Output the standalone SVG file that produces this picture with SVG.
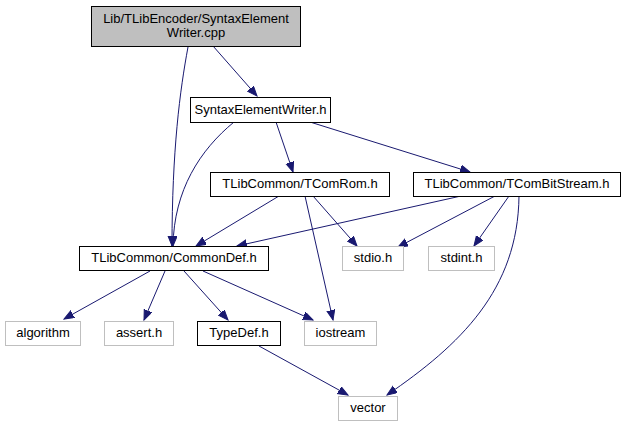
<svg xmlns="http://www.w3.org/2000/svg" width="628" height="427" viewBox="0 0 628 427">
<style>
.n rect{fill:#fff;stroke:#000;stroke-width:1}
.g rect{fill:#fff;stroke:#bfbfbf;stroke-width:1}
.r rect{fill:#bfbfbf;stroke:#000;stroke-width:1}
text{font-family:"Liberation Sans",Arial,sans-serif;font-size:13px;text-anchor:middle;fill:#000}
#edges path{fill:none;stroke:#191970;stroke-width:1;marker-end:url(#ah)}
</style>
<defs>
<marker id="ah" markerUnits="userSpaceOnUse" markerWidth="12" markerHeight="10" refX="10" refY="4" orient="auto" viewBox="0 0 12 10">
<path d="M0,0 L10,4 L0,8 Z" fill="#191970" stroke="#191970"/>
</marker>
</defs>
<rect width="628" height="427" fill="#fff"/>
<g id="edges">
<path d="M188,47 C180,90 172,150 172,246"/>
<path d="M213,46 L257,96"/>
<path d="M234,122 C200,150 174,190 173,246"/>
<path d="M276,122 L293,172"/>
<path d="M310,122 L470,172"/>
<path d="M279,196 L196,246"/>
<path d="M313,196 L357,246"/>
<path d="M305,196 L333,320"/>
<path d="M461,196 L237,246"/>
<path d="M495,196 L398,247"/>
<path d="M509,196 L474,246"/>
<path d="M519,196 C518,290 460,345 387,395"/>
<path d="M150,271 L64,319"/>
<path d="M165,271 L144,320"/>
<path d="M184,271 L228,320"/>
<path d="M203,271 L313,320"/>
<path d="M259,346 L348,395"/>
</g>
<g id="node_root" class="r"><rect x="91.5" y="6.5" width="209" height="40"/><text x="196" y="23">Lib/TLibEncoder/SyntaxElement</text><text x="196" y="37">Writer.cpp</text></g>
<g id="node_sew" class="n"><rect x="190.5" y="97.5" width="140" height="25"/><text x="260.5" y="114">SyntaxElementWriter.h</text></g>
<g id="node_tcomrom" class="n"><rect x="210.5" y="172.5" width="179" height="24"/><text x="300" y="188">TLibCommon/TComRom.h</text></g>
<g id="node_tcombitstream" class="n"><rect x="413.5" y="172.5" width="207" height="24"/><text x="517" y="188">TLibCommon/TComBitStream.h</text></g>
<g id="node_commondef" class="n"><rect x="79.5" y="246.5" width="189" height="24"/><text x="174" y="262">TLibCommon/CommonDef.h</text></g>
<g id="node_stdio" class="g"><rect x="342.5" y="246.5" width="61" height="24"/><text x="373" y="262">stdio.h</text></g>
<g id="node_stdint" class="g"><rect x="428.5" y="246.5" width="66" height="24"/><text x="461.5" y="262">stdint.h</text></g>
<g id="node_algorithm" class="g"><rect x="5.5" y="321.5" width="75" height="24"/><text x="43" y="337">algorithm</text></g>
<g id="node_assert" class="g"><rect x="104.5" y="321.5" width="69" height="24"/><text x="139" y="337">assert.h</text></g>
<g id="node_typedef" class="n"><rect x="197.5" y="321.5" width="83" height="24"/><text x="239" y="337">TypeDef.h</text></g>
<g id="node_iostream" class="g"><rect x="304.5" y="321.5" width="72" height="24"/><text x="340.5" y="337">iostream</text></g>
<g id="node_vector" class="g"><rect x="338.5" y="396.5" width="59" height="24"/><text x="368" y="412">vector</text></g>
</svg>
